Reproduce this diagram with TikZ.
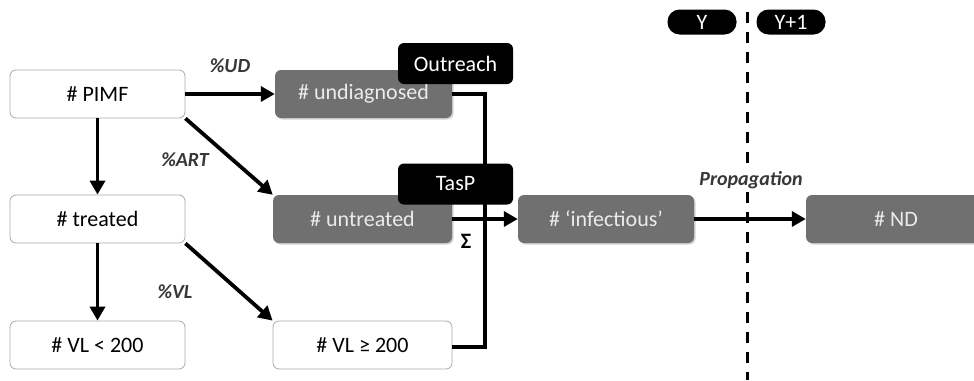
\documentclass[tikz,border=0pt]{standalone}
\usepackage{fontspec}
\setmainfont{Carlito}
\usetikzlibrary{arrows.meta,positioning,shadows}
\definecolor{boxgray}{RGB}{112,112,112}
\definecolor{edgegray}{RGB}{170,170,170}
\definecolor{labgray}{RGB}{55,55,55}
\tikzset{
  base/.style={rounded corners=6pt, minimum height=48pt, inner sep=0pt, font=\fontsize{22}{24}\selectfont},
  whitebox/.style={base, draw=edgegray, line width=0.8pt, fill=white, text=black},
  graybox/.style={base, fill=boxgray, text=white!92!black, drop shadow={shadow xshift=1.5pt, shadow yshift=-1.5pt, opacity=0.35}},
  blackbox/.style={rounded corners=6pt, fill=black, text=white, minimum height=41pt, minimum width=115pt, inner sep=0pt, font=\fontsize{22}{24}\selectfont},
  yearpill/.style={rounded corners=12pt, fill=black, text=white, minimum height=25pt, minimum width=69pt, inner sep=0pt, font=\fontsize{22}{24}\selectfont},
  flow/.style={line width=3.8pt, -{Triangle[length=14pt,width=15pt]}},
  link/.style={line width=3.8pt},
  rate/.style={font=\fontsize{20}{22}\selectfont\bfseries\itshape, text=labgray},
}
\begin{document}
\begin{tikzpicture}[x=1pt,y=-1pt]
\useasboundingbox (0,0) rectangle (974,380);
\fill[white] (0,0) rectangle (974,380);

% year separator
\draw[line width=3pt, dash pattern=on 11pt off 9pt] (747,12) -- (747,380);
\node[yearpill] (y0) at (702,22) {Y};
\node[yearpill] (y1) at (791,22) {Y+1};

% left column
\node[whitebox, minimum width=175pt] (pimf) at (97.5,94) {\# PIMF};
\node[whitebox, minimum width=175pt] (treated) at (97.5,219) {\# treated};
\node[whitebox, minimum width=175pt] (vllow) at (97.5,345) {\# VL < 200};

% middle column
\node[graybox, minimum width=177pt] (undiag) at (363.5,94) {\# undiagnosed};
\node[graybox, minimum width=179pt] (untreated) at (362.5,219) {\# untreated};
\node[whitebox, minimum width=179pt] (vlhigh) at (362.5,345) {\# VL ≥ 200};

% collection line (sum of the three groups)
\coordinate (cTop) at (485,94);
\coordinate (cBot) at (485,347);
\draw[link] (undiag.east |- cTop) -- (cTop) -- (cBot) -- (vlhigh.east |- cBot);

% right side
\node[graybox, minimum width=176pt] (infect) at (606,219) {\# ‘infectious’};
\node[graybox, minimum width=180pt] (nd) at (896,219) {\# ND};

% interventions
\node[blackbox] (outreach) at (455.5,63.5) {Outreach};
\node[blackbox] (tasp) at (455.5,184) {TasP};

% flows
\draw[flow] (pimf.east) -- (undiag.west);
\draw[flow] (pimf.south east) -- (untreated.north west);
\draw[flow] (pimf.south) -- (treated.north);
\draw[flow] (treated.south) -- (vllow.north);
\draw[flow] (treated.south east) -- (vlhigh.north west);
\draw[flow] (untreated.east) -- (infect.west);
\draw[flow] (infect.east) -- (nd.west);

% labels
\node[rate] (lud) at (230,66) {\%UD};
\node[rate] (lart) at (185,160) {\%ART};
\node[rate] (lvl) at (175,292) {\%VL};
\node[rate, fill=white, inner sep=1pt] (lprop) at (751,180) {Propagation};
\node[font=\fontsize{22}{24}\selectfont\bfseries] (sigma) at (466,241) {Σ};
\end{tikzpicture}
\end{document}
